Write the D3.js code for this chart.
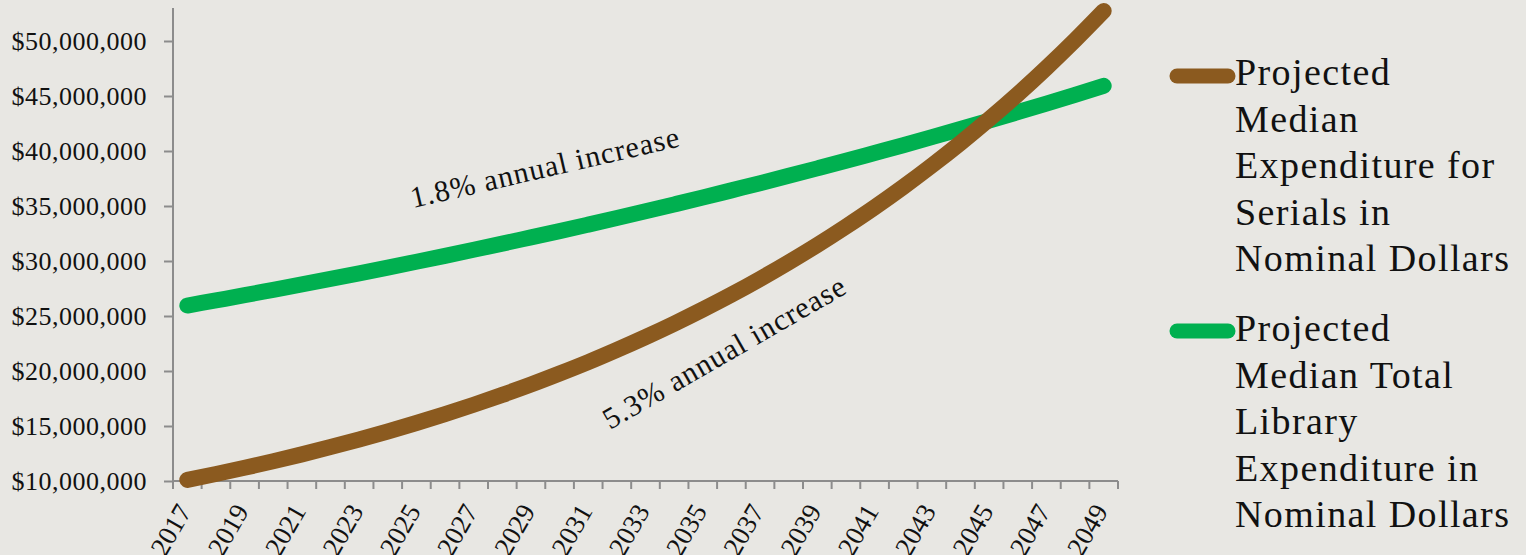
<!DOCTYPE html>
<html>
<head>
<meta charset="utf-8">
<script src="https://cdn.jsdelivr.net/npm/d3@7"></script>
<style>
  html, body { margin: 0; padding: 0; background: #e8e7e3; }
  svg { display: block; }
  text { font-family: "Liberation Serif", "Times New Roman", serif; fill: #111; }
</style>
</head>
<body>
<svg id="chart" width="1526" height="555"></svg>
<script>
// ---- Data ----
const years = d3.range(2017, 2050).map(String);
const serials = [10.10, 10.64, 11.20, 11.79, 12.42, 13.08, 13.77, 14.50, 15.27, 16.08, 16.93,
  17.83, 18.77, 19.77, 20.81, 21.92, 23.08, 24.30, 25.59, 26.94, 28.37, 29.88, 31.46, 33.13,
  34.88, 36.73, 38.68, 40.73, 42.89, 45.16, 47.56, 50.08, 52.73].map(v => v * 1e6);
const totalLibrary = [25.95, 26.42, 26.89, 27.38, 27.87, 28.37, 28.88, 29.40, 29.93, 30.47, 31.02,
  31.58, 32.15, 32.72, 33.31, 33.91, 34.52, 35.14, 35.77, 36.42, 37.07, 37.74, 38.42, 39.11,
  39.82, 40.53, 41.26, 42.00, 42.76, 43.53, 44.31, 45.11, 45.92].map(v => v * 1e6);
const yTicks = [10e6, 15e6, 20e6, 25e6, 30e6, 35e6, 40e6, 45e6, 50e6];
const xTickLabels = years.filter((yr, i) => i % 2 === 0);
const seriesNames = [
  ["Projected", "Median", "Expenditure for", "Serials in", "Nominal Dollars"],
  ["Projected", "Median Total", "Library", "Expenditure in", "Nominal Dollars"]
];
const seriesColors = ["#8b5a1f", "#00b050"];
const annotations = ["1.8% annual increase", "5.3% annual increase"];

// ---- Layout ----
const svg = d3.select("#chart");
const mLeft = 173, mRight = 1118, mTop = 8, mBottom = 481;

const x = d3.scaleBand().domain(years).range([mLeft, mRight]).padding(0);
const y = d3.scaleLinear().domain([10e6, 53e6]).range([mBottom, mTop]);
const cx = d => x(d) + x.bandwidth() / 2;

const axisColor = "#8c8c8c";

// y axis
const yAxis = svg.append("g").attr("transform", `translate(${mLeft},0)`)
  .call(d3.axisLeft(y).tickValues(yTicks).tickSize(9).tickPadding(17)
    .tickFormat(d => "$" + d3.format(",")(d)));
yAxis.select(".domain").remove();
yAxis.selectAll(".tick line").attr("stroke", axisColor).attr("stroke-width", 2);
yAxis.selectAll(".tick text").style("font-size", "26px").style("letter-spacing", "0.5px")
  .attr("fill", "#111").style("font-family", '"Liberation Serif", serif');
svg.append("line").attr("x1", mLeft).attr("x2", mLeft).attr("y1", y(53e6)).attr("y2", mBottom)
  .attr("stroke", axisColor).attr("stroke-width", 2);

// x axis line + boundary ticks
svg.append("line").attr("x1", mLeft).attr("x2", mRight).attr("y1", mBottom).attr("y2", mBottom)
  .attr("stroke", axisColor).attr("stroke-width", 2);
const boundaries = years.map(d => x(d)).concat([x(years[years.length - 1]) + x.bandwidth()]);
svg.append("g").selectAll("line").data(boundaries).join("line")
  .attr("x1", d => d).attr("x2", d => d).attr("y1", mBottom).attr("y2", mBottom + 8)
  .attr("stroke", axisColor).attr("stroke-width", 2);

// x labels
svg.append("g").selectAll("text").data(xTickLabels).join("text")
  .attr("transform", d => `translate(${cx(d) + 5},${mBottom + 30}) rotate(-60)`)
  .attr("text-anchor", "end")
  .style("font-size", "27px")
  .text(d => d);

// lines
const line = d3.line().x((d, i) => cx(years[i])).y(d => y(d)).curve(d3.curveMonotoneX);
[totalLibrary, serials].forEach((vals, k) => {
  svg.append("path").datum(vals)
    .attr("d", line)
    .attr("fill", "none")
    .attr("stroke", k === 0 ? seriesColors[1] : seriesColors[0])
    .attr("stroke-width", 16)
    .attr("stroke-linecap", "round")
    .attr("stroke-linejoin", "round");
});

// annotations
svg.append("text").attr("transform", "translate(413,208) rotate(-13)")
  .style("font-size", "30px").style("letter-spacing", "1px").text(annotations[0]);
svg.append("text").attr("transform", "translate(610,430) rotate(-30)")
  .style("font-size", "30px").style("letter-spacing", "1px").text(annotations[1]);

// legend
const legendTops = [76, 331];
const baselineFirst = [85, 341];
seriesNames.forEach((lines, k) => {
  const g = svg.append("g");
  g.append("line").attr("x1", 1177).attr("x2", 1228)
    .attr("y1", legendTops[k]).attr("y2", legendTops[k])
    .attr("stroke", seriesColors[k]).attr("stroke-width", 15).attr("stroke-linecap", "round");
  const t = g.append("text").attr("x", 1235).attr("y", baselineFirst[k])
    .style("font-size", "38px").style("letter-spacing", "1.4px");
  lines.forEach((s, i) => {
    t.append("tspan").attr("x", 1235).attr("y", baselineFirst[k] + i * 46.5).text(s);
  });
});
</script>
</body>
</html>
